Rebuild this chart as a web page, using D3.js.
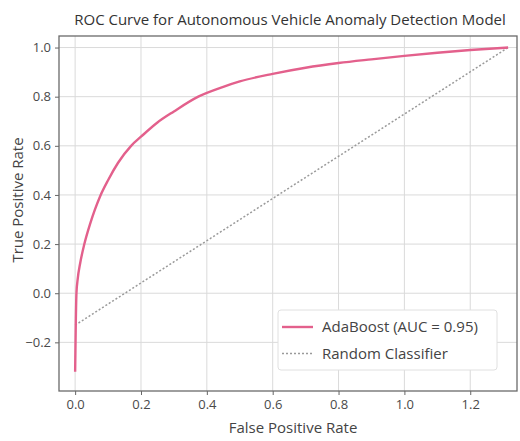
<!DOCTYPE html>
<html>
<head>
<meta charset="utf-8">
<script src="https://cdn.jsdelivr.net/npm/d3@7"></script>
<style>
  body { margin: 0; background: #fff; }
  svg { font-family: "Open Sans", "Noto Sans", sans-serif; }
</style>
</head>
<body>
<svg id="chart" width="520" height="441"></svg>
<script>
// values
const fpr = [0, 0.002, 0.004, 0.008, 0.015, 0.028, 0.045, 0.06, 0.076, 0.1, 0.13, 0.17, 0.2,
  0.25, 0.3, 0.374, 0.45, 0.5, 0.6, 0.7, 0.8, 0.9, 1.0, 1.1, 1.2, 1.315];
const tpr = [-0.32, -0.12, 0.0, 0.06, 0.12, 0.2, 0.28, 0.34, 0.395, 0.46, 0.53, 0.6, 0.637,
  0.695, 0.74, 0.8, 0.84, 0.862, 0.893, 0.918, 0.937, 0.952, 0.966, 0.979, 0.99, 1.0];
const randX = [0, 1.315];
const randY = [-0.13, 1.0];
const xTicks = [0, 0.2, 0.4, 0.6, 0.8, 1.0, 1.2];
const yTicks = [-0.2, 0, 0.2, 0.4, 0.6, 0.8, 1.0];
const seriesNames = ["AdaBoost (AUC = 0.95)", "Random Classifier"];

(function() {
  const svg = d3.select("#chart");
  const pLeft = 59, pRight = 517, pTop = 36, pBottom = 391;

  const x = d3.scaleLinear().domain([-0.049, 1.342]).range([pLeft, pRight]);
  const y = d3.scaleLinear().domain([-0.398, 1.047]).range([pBottom, pTop]);

  // grid
  svg.append("g")
    .selectAll("line")
    .data(xTicks)
    .enter().append("line")
      .attr("x1", d => x(d)).attr("x2", d => x(d))
      .attr("y1", pTop).attr("y2", pBottom)
      .attr("stroke", "#dadada").attr("stroke-width", 1);

  svg.append("g")
    .selectAll("line")
    .data(yTicks)
    .enter().append("line")
      .attr("x1", pLeft).attr("x2", pRight)
      .attr("y1", d => y(d)).attr("y2", d => y(d))
      .attr("stroke", "#dadada").attr("stroke-width", 1);

  // random classifier
  svg.append("path")
    .datum(d3.zip(randX, randY))
    .attr("fill", "none")
    .attr("stroke", "#9a9a9a")
    .attr("stroke-width", 1.5)
    .attr("stroke-dasharray", "2,2")
    .attr("d", d3.line().x(d => x(d[0])).y(d => y(d[1])));

  // roc curve
  svg.append("path")
    .datum(d3.zip(fpr, tpr))
    .attr("fill", "none")
    .attr("stroke", "#e3608c")
    .attr("stroke-width", 2.4)
    .attr("stroke-linejoin", "round")
    .attr("d", d3.line().curve(d3.curveMonotoneX).x(d => x(d[0])).y(d => y(d[1])));

  // axes
  const xAxis = svg.append("g")
    .attr("transform", "translate(0," + pBottom + ")")
    .call(d3.axisBottom(x).tickValues(xTicks).tickFormat(d3.format(".1f")).tickSize(4).tickPadding(5));
  const yAxis = svg.append("g")
    .attr("transform", "translate(" + pLeft + ",0)")
    .call(d3.axisLeft(y).tickValues(yTicks).tickFormat(d3.format(".1f")).tickSize(4).tickPadding(4));

  [xAxis, yAxis].forEach(function(a) {
    a.select(".domain").remove();
    a.selectAll("line").attr("stroke", "#666");
    a.selectAll("text").attr("fill", "#4a4a4a").style("font-size", "13px").style("font-family", "'Open Sans', sans-serif");
  });

  // frame
  svg.append("rect")
    .attr("x", pLeft).attr("y", pTop)
    .attr("width", pRight - pLeft).attr("height", pBottom - pTop)
    .attr("fill", "none").attr("stroke", "#6a6a6a").attr("stroke-width", 1.3);

  // titles
  svg.append("text")
    .attr("x", 290).attr("y", 25)
    .attr("text-anchor", "middle")
    .attr("fill", "#333")
    .style("font-size", "15px")
    .text("ROC Curve for Autonomous Vehicle Anomaly Detection Model");

  svg.append("text")
    .attr("x", 293).attr("y", 433)
    .attr("text-anchor", "middle")
    .attr("fill", "#444")
    .style("font-size", "15px")
    .text("False Positive Rate");

  svg.append("text")
    .attr("transform", "translate(23,200) rotate(-90)")
    .attr("text-anchor", "middle")
    .attr("fill", "#444")
    .style("font-size", "15px")
    .text("True Positive Rate");

  // legend
  const legend = svg.append("g").attr("transform", "translate(278,310)");
  legend.append("rect")
    .attr("width", 219).attr("height", 60).attr("rx", 3)
    .attr("fill", "#fff").attr("stroke", "#e0e0e0");

  const styles = [
    { stroke: "#e3608c", width: 2.4, dash: null },
    { stroke: "#9a9a9a", width: 1.5, dash: "2,2" }
  ];

  let item = legend.selectAll(".item")
    .data(seriesNames)
    .enter().append("g")
      .attr("class", "item")
      .attr("transform", function(d, i) { return "translate(0," + (17 + i * 26.5) + ")"; });

  item.append("line")
    .attr("x1", 4).attr("x2", 35)
    .attr("stroke", (d, i) => styles[i].stroke)
    .attr("stroke-width", (d, i) => styles[i].width)
    .attr("stroke-dasharray", (d, i) => styles[i].dash);

  item.append("text")
    .attr("x", 44).attr("dy", ".35em")
    .attr("fill", "#444")
    .style("font-size", "15px")
    .text(d => d);
})();
</script>
</body>
</html>
